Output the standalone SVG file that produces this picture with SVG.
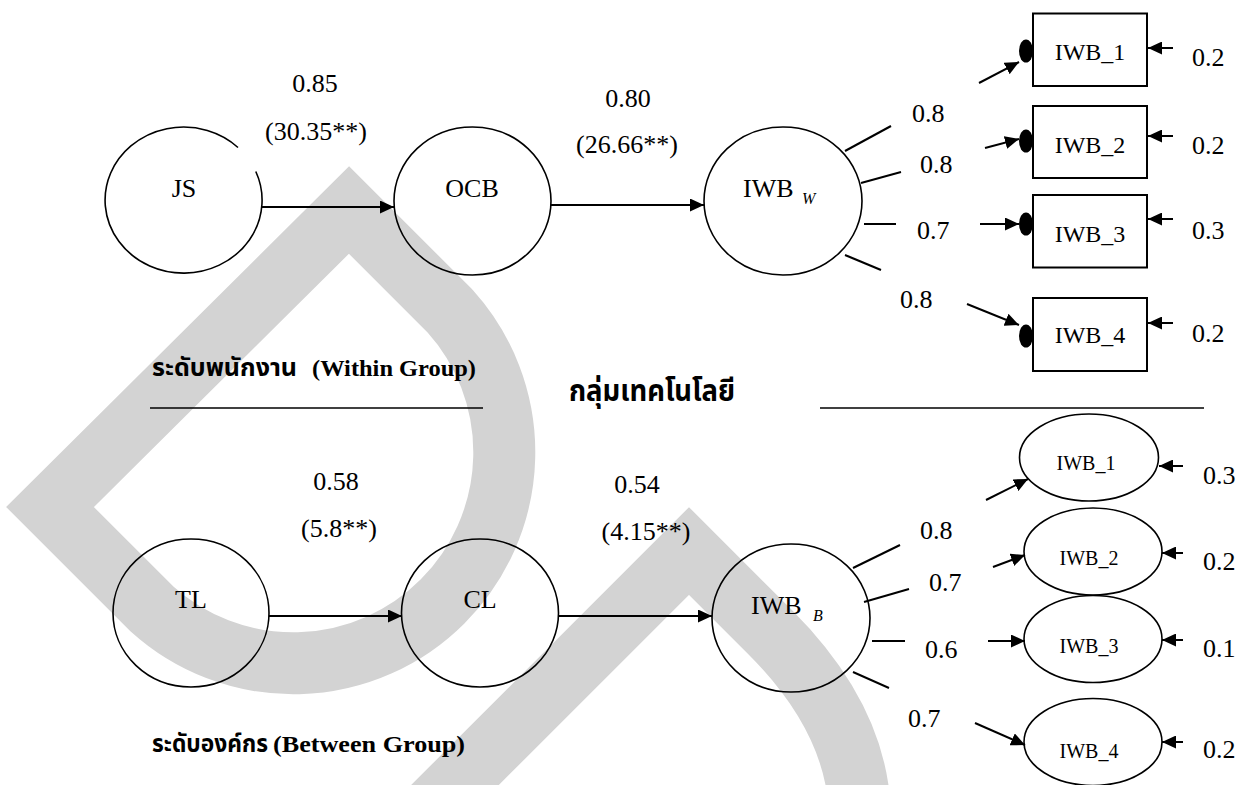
<svg xmlns="http://www.w3.org/2000/svg" width="1242" height="785" viewBox="0 0 1242 785">
  <style>
    .t { font-family: "Liberation Serif", "Times New Roman", serif; fill: #000; }
    .v { font-size: 26px; }
    .m { text-anchor: middle; }
    .sub { font-size: 16px; font-style: italic; }
    .box { font-size: 24px; }
    .ell { font-size: 20px; }
    .th { font-family: "Liberation Serif", "Noto Sans Thai", "Noto Serif Thai", "Garuda", "Loma", serif; font-weight: bold; fill: #000; }
    .lat { font-family: "Liberation Serif", serif; font-weight: bold; font-size: 24px; fill: #000; }
    .node { fill: none; stroke: #000; stroke-width: 1.6; }
    .rect { fill: none; stroke: #000; stroke-width: 2; }
    .dot { fill: #000; }
    .edge { fill: none; stroke: #000; stroke-width: 2; }
    .arrow { fill: none; stroke: #000; stroke-width: 2; marker-end: url(#head); }
    .rule { stroke: #000; stroke-width: 1.5; }
    .mark { fill: none; stroke: #d3d3d3; stroke-width: 62; stroke-linejoin: miter; stroke-miterlimit: 4; }
  </style>
  <defs>
    <marker id="head" viewBox="0 0 14 13" refX="14" refY="6.5" markerWidth="14" markerHeight="13" markerUnits="userSpaceOnUse" orient="auto">
      <path d="M0,0 L14,6.5 L0,13 Z" fill="#000"/>
    </marker>
  </defs>

  <!-- background mark -->
  <g id="backdrop">
    <path class="mark" d="M450,311 L349,210 L50,507 L152,609 A211,211 0 0 0 450,311 Z"/>
    <path class="mark" d="M410,830 L689,551 L770,632 Q860,722 860,820"/>
  </g>

  <!-- connectors -->
  <g id="connectors">
    <!-- within group -->
    <line class="arrow" x1="262" y1="207" x2="394" y2="207"/>
    <line class="arrow" x1="551" y1="205" x2="704" y2="205"/>
    <line class="edge" x1="845" y1="151" x2="891" y2="126"/>
    <line class="edge" x1="861" y1="183" x2="901" y2="172"/>
    <line class="edge" x1="864" y1="224" x2="896" y2="224"/>
    <line class="edge" x1="845" y1="255" x2="881" y2="270"/>
    <line class="arrow" x1="979" y1="83" x2="1019" y2="62"/>
    <line class="arrow" x1="985" y1="148" x2="1019" y2="139"/>
    <line class="arrow" x1="980" y1="224" x2="1019" y2="224"/>
    <line class="arrow" x1="967" y1="304" x2="1019" y2="325"/>
    <line class="arrow" x1="1173" y1="48" x2="1148" y2="48"/>
    <line class="arrow" x1="1173" y1="136" x2="1148" y2="136"/>
    <line class="arrow" x1="1173" y1="219" x2="1148" y2="219"/>
    <line class="arrow" x1="1173" y1="323" x2="1148" y2="323"/>
    <!-- between group -->
    <line class="arrow" x1="269" y1="616" x2="402" y2="616"/>
    <line class="arrow" x1="558" y1="616" x2="712" y2="616"/>
    <line class="edge" x1="853" y1="568" x2="900" y2="545"/>
    <line class="edge" x1="864" y1="602" x2="909" y2="589"/>
    <line class="edge" x1="872" y1="641" x2="905" y2="641"/>
    <line class="edge" x1="853" y1="672" x2="889" y2="688"/>
    <line class="arrow" x1="986" y1="500" x2="1028" y2="479"/>
    <line class="arrow" x1="993" y1="567" x2="1025" y2="555"/>
    <line class="arrow" x1="988" y1="641" x2="1025" y2="641"/>
    <line class="arrow" x1="975" y1="723" x2="1025" y2="745"/>
    <line class="arrow" x1="1183" y1="466" x2="1159" y2="466"/>
    <line class="arrow" x1="1183" y1="553" x2="1162" y2="553"/>
    <line class="arrow" x1="1183" y1="640" x2="1162" y2="640"/>
    <line class="arrow" x1="1183" y1="742" x2="1162" y2="742"/>
  </g>

  <!-- path coefficients -->
  <g id="coefficients">
    <text class="t v m" x="315" y="92">0.85</text>
    <text class="t v m" x="316" y="140">(30.35**)</text>
    <text class="t v m" x="628" y="107">0.80</text>
    <text class="t v m" x="627" y="153">(26.66**)</text>
    <text class="t v" x="912" y="122">0.8</text>
    <text class="t v" x="920" y="173">0.8</text>
    <text class="t v" x="917" y="239">0.7</text>
    <text class="t v" x="900" y="308">0.8</text>
    <text class="t v" x="1192" y="66">0.2</text>
    <text class="t v" x="1192" y="154">0.2</text>
    <text class="t v" x="1192" y="239">0.3</text>
    <text class="t v" x="1192" y="342">0.2</text>

    <text class="t v m" x="336" y="490">0.58</text>
    <text class="t v m" x="339" y="537">(5.8**)</text>
    <text class="t v m" x="637" y="493">0.54</text>
    <text class="t v m" x="646" y="540">(4.15**)</text>
    <text class="t v" x="920" y="539">0.8</text>
    <text class="t v" x="929" y="591">0.7</text>
    <text class="t v" x="925" y="658">0.6</text>
    <text class="t v" x="908" y="727">0.7</text>
    <text class="t v" x="1203" y="484">0.3</text>
    <text class="t v" x="1203" y="570">0.2</text>
    <text class="t v" x="1203" y="657">0.1</text>
    <text class="t v" x="1203" y="758">0.2</text>
  </g>

  <!-- within group (employee level) -->
  <g id="node-js">
    <path class="node" d="M255.8,171.5 A78.5,73 0 1 1 238,147.5"/>
    <text class="t v m" x="184" y="197">JS</text>
  </g>
  <g id="node-ocb">
    <ellipse class="node" cx="472.5" cy="201" rx="78.5" ry="74"/>
    <text class="t v m" x="472" y="197">OCB</text>
  </g>
  <g id="node-iwb-w">
    <ellipse class="node" cx="783" cy="201" rx="79" ry="74"/>
    <text class="t v" x="743" y="197">IWB</text>
    <text class="t sub" x="802" y="204">W</text>
  </g>
  <g id="item-w1">
    <ellipse class="dot" cx="1026" cy="51" rx="7" ry="11.5"/>
    <rect class="rect" x="1033" y="13.5" width="114" height="72.5"/>
    <text class="t box m" x="1090" y="60">IWB_1</text>
  </g>
  <g id="item-w2">
    <ellipse class="dot" cx="1026" cy="141" rx="7" ry="11.5"/>
    <rect class="rect" x="1033" y="106" width="114" height="72"/>
    <text class="t box m" x="1090" y="153">IWB_2</text>
  </g>
  <g id="item-w3">
    <ellipse class="dot" cx="1026" cy="224" rx="7" ry="11.5"/>
    <rect class="rect" x="1033" y="195" width="114" height="72.5"/>
    <text class="t box m" x="1090" y="242">IWB_3</text>
  </g>
  <g id="item-w4">
    <ellipse class="dot" cx="1026" cy="336" rx="7" ry="11.5"/>
    <rect class="rect" x="1033" y="298" width="114" height="73"/>
    <text class="t box m" x="1090" y="343">IWB_4</text>
  </g>

  <!-- section headings and rules -->
  <g id="headings">
    <text class="th" x="152" y="376" font-size="24" textLength="145" lengthAdjust="spacingAndGlyphs">ระดับพนักงาน</text>
    <text class="lat" x="312" y="376" textLength="164" lengthAdjust="spacingAndGlyphs">(Within Group)</text>
    <line class="rule" x1="150" y1="408" x2="483" y2="408"/>
    <text class="th" x="569" y="401" font-size="30" textLength="166" lengthAdjust="spacingAndGlyphs">กลุ่มเทคโนโลยี</text>
    <line class="rule" x1="820" y1="408" x2="1204" y2="408"/>
    <text class="th" x="152" y="752" font-size="24" textLength="116" lengthAdjust="spacingAndGlyphs">ระดับองค์กร</text>
    <text class="lat" x="273" y="752" textLength="192" lengthAdjust="spacingAndGlyphs">(Between Group)</text>
  </g>

  <!-- between group (organisation level) -->
  <g id="node-tl">
    <ellipse class="node" cx="191" cy="613" rx="78" ry="74"/>
    <text class="t v m" x="191" y="608">TL</text>
  </g>
  <g id="node-cl">
    <ellipse class="node" cx="480" cy="613" rx="78.5" ry="74"/>
    <text class="t v m" x="480" y="608">CL</text>
  </g>
  <g id="node-iwb-b">
    <ellipse class="node" cx="791" cy="618" rx="79" ry="74"/>
    <text class="t v" x="751" y="614">IWB</text>
    <text class="t sub" x="813" y="621">B</text>
  </g>
  <g id="item-b1">
    <ellipse class="node" cx="1089" cy="457.5" rx="69.5" ry="43.5"/>
    <text class="t ell m" x="1086" y="470">IWB_1</text>
  </g>
  <g id="item-b2">
    <ellipse class="node" cx="1093" cy="551.5" rx="69" ry="43.5"/>
    <text class="t ell m" x="1089" y="565">IWB_2</text>
  </g>
  <g id="item-b3">
    <ellipse class="node" cx="1093" cy="639" rx="69" ry="43.5"/>
    <text class="t ell m" x="1089" y="653">IWB_3</text>
  </g>
  <g id="item-b4">
    <ellipse class="node" cx="1093" cy="742" rx="69" ry="43.5"/>
    <text class="t ell m" x="1089" y="758">IWB_4</text>
  </g>
</svg>
